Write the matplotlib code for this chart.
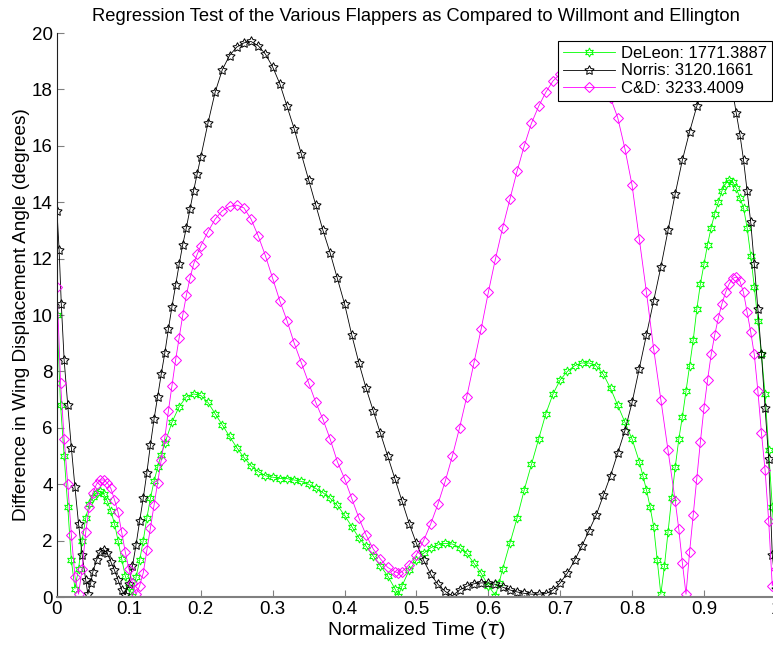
import matplotlib
matplotlib.use('Agg')
import matplotlib.pyplot as plt

plt.rcParams['font.family'] = ['Liberation Sans', 'DejaVu Sans']

# (normalized time, angle difference in degrees)
deleon = [(0, 10.0), (0.005, 6.8), (0.01, 5.0), (0.015, 3.2), (0.02, 1.3), (0.025, 0.3),
          (0.03, 1.0), (0.035, 2.0), (0.04, 2.8), (0.045, 3.3), (0.05, 3.55), (0.055, 3.7),
          (0.06, 3.75), (0.065, 3.65), (0.07, 3.4), (0.075, 3.05), (0.08, 2.6), (0.085, 2.0),
          (0.09, 1.35), (0.095, 0.75), (0.1, 0.35), (0.105, 0.05), (0.11, 0.7), (0.115, 1.3),
          (0.12, 2.0), (0.125, 2.8), (0.13, 3.5), (0.135, 4.1), (0.14, 4.6), (0.145, 5.05),
          (0.15, 5.45), (0.16, 6.2), (0.17, 6.75), (0.18, 7.1), (0.19, 7.2), (0.20, 7.15),
          (0.21, 6.9), (0.22, 6.5), (0.23, 6.1), (0.24, 5.7), (0.25, 5.3), (0.26, 4.95),
          (0.27, 4.65), (0.28, 4.45), (0.29, 4.3), (0.30, 4.25), (0.31, 4.2), (0.32, 4.2),
          (0.33, 4.15), (0.34, 4.1), (0.35, 4.0), (0.36, 3.85), (0.37, 3.7), (0.38, 3.5),
          (0.39, 3.25), (0.40, 2.9), (0.41, 2.5), (0.42, 2.1), (0.43, 1.8), (0.44, 1.45),
          (0.45, 1.1), (0.46, 0.75), (0.47, 0.3), (0.475, 0.05), (0.48, 0.4), (0.49, 0.95),
          (0.50, 1.3), (0.51, 1.55), (0.52, 1.75), (0.53, 1.85), (0.54, 1.9), (0.55, 1.88),
          (0.56, 1.75), (0.57, 1.55), (0.58, 1.2), (0.59, 0.85), (0.60, 0.4), (0.61, 0.05),
          (0.615, 0.5), (0.62, 1.0), (0.63, 1.9), (0.64, 2.8), (0.65, 3.8), (0.66, 4.7),
          (0.67, 5.6), (0.68, 6.5), (0.69, 7.2), (0.70, 7.7), (0.71, 8.0), (0.72, 8.2),
          (0.73, 8.3), (0.74, 8.3), (0.75, 8.2), (0.76, 7.9), (0.77, 7.4), (0.78, 6.8),
          (0.79, 6.2), (0.80, 5.6), (0.81, 4.8), (0.815, 4.3), (0.82, 3.8), (0.825, 3.2),
          (0.83, 2.5), (0.835, 1.3), (0.84, 0.1), (0.845, 1.1), (0.85, 2.3), (0.855, 3.5),
          (0.86, 4.6), (0.865, 5.6), (0.87, 6.4), (0.875, 7.3), (0.88, 8.2), (0.885, 9.1),
          (0.89, 10.2), (0.895, 11.1), (0.90, 11.8), (0.905, 12.5), (0.91, 13.1), (0.915, 13.6),
          (0.92, 14.0), (0.925, 14.4), (0.93, 14.65), (0.935, 14.8), (0.94, 14.7), (0.945, 14.5),
          (0.95, 14.15), (0.955, 13.8), (0.96, 13.1), (0.965, 12.1), (0.97, 11.0), (0.975, 9.8),
          (0.98, 8.6), (0.985, 7.2), (0.99, 5.2), (0.995, 3.2), (1.0, 1.5)]

norris = [(0, 13.7), (0.003, 12.3), (0.006, 10.4), (0.01, 8.4), (0.015, 6.8), (0.02, 5.3),
          (0.025, 3.9), (0.03, 2.6), (0.035, 1.5), (0.04, 0.6), (0.043, 0.1), (0.047, 0.5),
          (0.05, 0.9), (0.055, 1.3), (0.06, 1.6), (0.065, 1.68), (0.07, 1.55), (0.075, 1.25),
          (0.08, 0.95), (0.085, 0.6), (0.09, 0.25), (0.095, 0.08), (0.1, 0.45), (0.105, 1.1),
          (0.11, 1.85), (0.115, 2.7), (0.12, 3.5), (0.125, 4.4), (0.13, 5.4), (0.135, 6.3),
          (0.14, 7.1), (0.145, 7.9), (0.15, 8.65), (0.155, 9.5), (0.16, 10.3), (0.165, 11.05),
          (0.17, 11.8), (0.175, 12.5), (0.18, 13.1), (0.185, 13.75), (0.19, 14.4), (0.195, 15.0),
          (0.20, 15.6), (0.21, 16.8), (0.22, 17.9), (0.23, 18.7), (0.24, 19.2), (0.25, 19.5),
          (0.26, 19.65), (0.27, 19.7), (0.28, 19.55), (0.29, 19.25), (0.30, 18.8), (0.31, 18.2),
          (0.32, 17.4), (0.33, 16.6), (0.34, 15.7), (0.35, 14.8), (0.36, 13.9), (0.37, 13.0),
          (0.38, 12.2), (0.39, 11.3), (0.40, 10.4), (0.41, 9.3), (0.42, 8.3), (0.43, 7.4),
          (0.44, 6.6), (0.45, 5.8), (0.46, 5.0), (0.47, 4.2), (0.48, 3.4), (0.49, 2.6),
          (0.50, 1.9), (0.51, 1.3), (0.52, 0.8), (0.53, 0.45), (0.54, 0.2), (0.55, 0.04),
          (0.56, 0.25), (0.57, 0.38), (0.58, 0.47), (0.59, 0.5), (0.60, 0.5), (0.61, 0.45),
          (0.62, 0.35), (0.63, 0.25), (0.64, 0.18), (0.65, 0.13), (0.66, 0.1), (0.67, 0.1),
          (0.68, 0.12), (0.69, 0.25), (0.70, 0.5), (0.71, 0.85), (0.72, 1.3), (0.73, 1.8),
          (0.74, 2.35), (0.75, 2.9), (0.76, 3.6), (0.77, 4.3), (0.78, 5.1), (0.79, 5.9),
          (0.80, 6.9), (0.81, 8.1), (0.82, 9.3), (0.83, 10.5), (0.84, 11.7), (0.85, 13.0),
          (0.86, 14.3), (0.87, 15.5), (0.88, 16.5), (0.89, 17.4), (0.90, 18.2), (0.91, 18.9),
          (0.92, 19.3), (0.93, 19.0), (0.935, 18.6), (0.94, 17.9), (0.945, 17.15), (0.95, 16.4),
          (0.955, 15.5), (0.96, 14.4), (0.965, 13.3), (0.97, 11.8), (0.975, 10.2), (0.98, 8.6),
          (0.985, 6.7), (0.99, 4.9), (0.995, 1.5), (1.0, 0.3)]

cd = [(0, 11.0), (0.005, 7.6), (0.01, 5.6), (0.015, 4.0), (0.02, 2.2), (0.025, 0.72),
      (0.03, 0.1), (0.035, 1.0), (0.04, 2.3), (0.045, 3.2), (0.05, 3.7), (0.055, 4.0),
      (0.06, 4.15), (0.065, 4.15), (0.07, 4.05), (0.075, 3.85), (0.08, 3.45), (0.085, 3.0),
      (0.09, 2.3), (0.095, 1.6), (0.1, 1.0), (0.105, 0.5), (0.11, 0.1), (0.115, 0.4),
      (0.12, 0.85), (0.125, 1.65), (0.13, 2.45), (0.135, 3.25), (0.14, 4.05), (0.145, 4.85),
      (0.15, 5.65), (0.155, 6.6), (0.16, 7.5), (0.165, 8.4), (0.17, 9.2), (0.175, 10.0),
      (0.18, 10.7), (0.185, 11.3), (0.19, 11.8), (0.195, 12.15), (0.20, 12.45), (0.21, 12.95),
      (0.22, 13.4), (0.23, 13.7), (0.24, 13.85), (0.25, 13.9), (0.26, 13.8), (0.27, 13.4),
      (0.28, 12.8), (0.29, 12.1), (0.30, 11.3), (0.31, 10.5), (0.32, 9.8), (0.33, 9.0),
      (0.34, 8.3), (0.35, 7.6), (0.36, 6.9), (0.37, 6.3), (0.38, 5.6), (0.39, 4.8),
      (0.40, 4.2), (0.41, 3.5), (0.42, 2.8), (0.43, 2.2), (0.44, 1.7), (0.45, 1.35),
      (0.46, 1.05), (0.47, 0.9), (0.475, 0.85), (0.48, 0.9), (0.49, 1.15), (0.50, 1.5),
      (0.51, 2.0), (0.52, 2.6), (0.53, 3.3), (0.54, 4.1), (0.55, 5.0), (0.56, 6.0),
      (0.57, 7.1), (0.58, 8.3), (0.59, 9.5), (0.60, 10.8), (0.61, 12.0), (0.62, 13.1),
      (0.63, 14.1), (0.64, 15.1), (0.65, 16.0), (0.66, 16.8), (0.67, 17.4), (0.68, 17.9),
      (0.69, 18.3), (0.70, 18.55), (0.71, 18.7), (0.72, 18.75), (0.73, 18.7), (0.74, 18.6),
      (0.75, 18.4), (0.76, 18.1), (0.77, 17.7), (0.78, 17.0), (0.79, 15.9), (0.80, 14.6),
      (0.81, 12.7), (0.82, 10.8), (0.83, 8.8), (0.84, 7.0), (0.85, 5.2), (0.86, 3.4),
      (0.865, 2.4), (0.87, 1.2), (0.875, 0.1), (0.88, 1.6), (0.885, 2.9), (0.89, 4.2),
      (0.895, 5.5), (0.90, 6.7), (0.905, 7.7), (0.91, 8.6), (0.915, 9.3), (0.92, 9.9),
      (0.925, 10.4), (0.93, 10.8), (0.935, 11.1), (0.94, 11.3), (0.945, 11.35), (0.95, 11.2),
      (0.955, 10.8), (0.96, 10.1), (0.965, 9.4), (0.97, 8.6), (0.975, 7.3), (0.98, 5.8),
      (0.985, 4.5), (0.99, 2.7), (0.995, 0.4), (1.0, 1.0)]

labels = ['DeLeon: 1771.3887', 'Norris: 3120.1661', 'C&D: 3233.4009']
xticks = [0, 0.1, 0.2, 0.3, 0.4, 0.5, 0.6, 0.7, 0.8, 0.9, 1]
xticklabels = ['0', '0.1', '0.2', '0.3', '0.4', '0.5', '0.6', '0.7', '0.8', '0.9', '1']
yticks = list(range(0, 21, 2))

fig = plt.figure(figsize=(7.73, 6.45), dpi=100)
ax = fig.add_axes([0.0737, 0.0744, 0.930, 0.8744])

t, v = zip(*deleon)
ax.plot(t, v, color='#00ff00', lw=0.6, marker=(6, 1, 0), ms=6.5, mfc='none',
        mec='#00ff00', mew=0.7, label=labels[0])
t, v = zip(*norris)
ax.plot(t, v, color='black', lw=0.6, marker=(5, 1, 0), ms=7, mfc='none',
        mec='black', mew=0.7, label=labels[1])
t, v = zip(*cd)
ax.plot(t, v, color='#ff00ff', lw=0.6, marker='D', ms=5.5, mfc='none',
        mec='#ff00ff', mew=0.7, label=labels[2])

ax.set_xlim(0, 1)
ax.set_ylim(0, 20)
ax.set_xticks(xticks)
ax.set_xticklabels(xticklabels)
ax.set_yticks(yticks)
ax.tick_params(direction='in', length=5, labelsize=13.5, colors='black')
ax.tick_params(axis='x', color='#808080', pad=3)
ax.tick_params(axis='y', color='#808080', pad=3)
ax.spines['top'].set_visible(False)
ax.spines['right'].set_visible(False)
ax.spines['bottom'].set_color('#808080')
ax.spines['bottom'].set_linewidth(1.5)
ax.spines['left'].set_color('#202020')

ax.set_title('Regression Test of the Various Flappers as Compared to Willmont and Ellington',
             fontsize=13.2, pad=9)
ax.set_xlabel('Normalized Time ($\\tau$)', fontsize=14, labelpad=1)
ax.set_ylabel('Difference in Wing Displacement Angle (degrees)', fontsize=13.7, labelpad=1)

leg = ax.legend(loc='upper right', bbox_to_anchor=(0.994, 0.986), fontsize=12,
                handlelength=3.1, labelspacing=0.15, borderpad=0.3, handletextpad=0.35,
                fancybox=False, framealpha=1, edgecolor='black', borderaxespad=0)
leg.get_frame().set_linewidth(0.8)

fig.savefig('out.png', dpi=100)
